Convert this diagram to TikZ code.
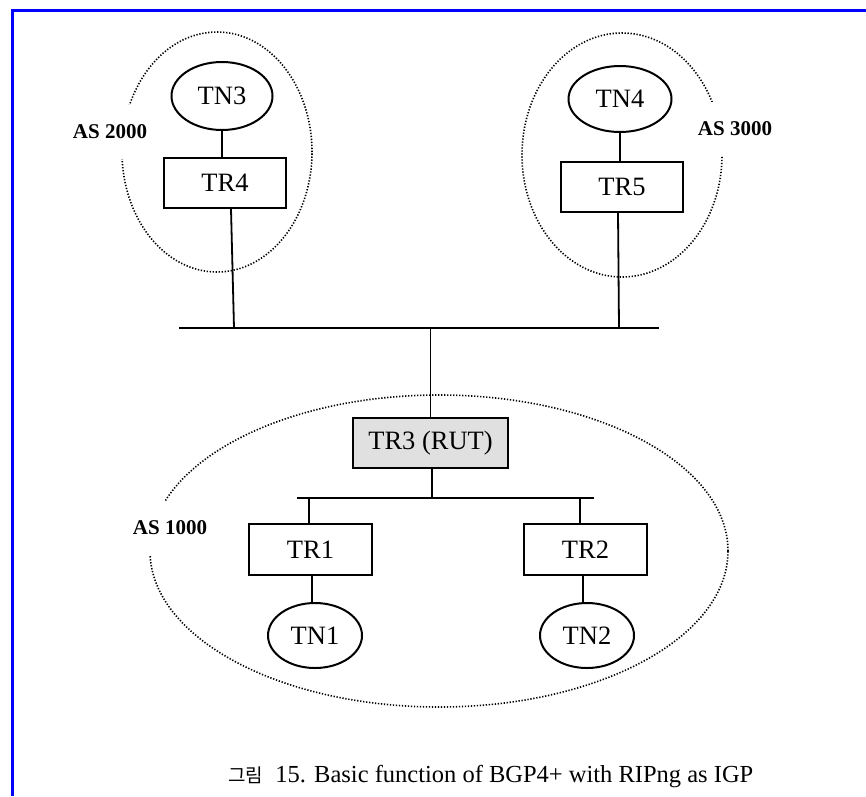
\documentclass[tikz,border=0pt]{standalone}
\usepackage{fontspec}
\setmainfont{Liberation Serif}
\newfontfamily\krfont{Noto Sans CJK KR}
\usetikzlibrary{shapes.geometric}
\definecolor{Frame}{RGB}{0,0,255}
\definecolor{RutGray}{RGB}{224,224,224}

\begin{document}
\begin{tikzpicture}[x=1pt, y=-1pt,
  router/.style={draw, line width=2pt, minimum width=122pt, minimum height=50pt, inner sep=0pt, font=\fontsize{26.5}{31}\selectfont},
  host/.style={draw, ellipse, line width=2pt, minimum width=100pt, minimum height=66pt, inner sep=0pt, font=\fontsize{26.5}{31}\selectfont},
  asarea/.style={draw, ellipse, line width=1.6pt, dash pattern=on 1.3pt off 1.7pt, inner sep=0pt},
  aslabel/.style={fill=white, inner xsep=0pt, minimum height=54pt, font=\bfseries\fontsize{21}{25}\selectfont},
  link/.style={line width=1.8pt}]
  \useasboundingbox (0,0) rectangle (866,796);
  \draw[Frame, line width=3pt] (12,796) -- (12,10) -- (866,10);
  % autonomous systems
  \node[asarea, minimum width=190pt, minimum height=240pt] (as2000) at (217,152) {};
  \node[asarea, minimum width=200pt, minimum height=244pt] (as3000) at (622,155) {};
  \node[asarea, minimum width=578pt, minimum height=312pt] (as1000) at (439,551) {};
  \node[aslabel] (as2000lbl) at (110,132) {AS 2000};
  \node[aslabel] (as3000lbl) at (735,129) {AS 3000};
  \node[aslabel] (as1000lbl) at (170,528) {AS 1000};
  % routers and hosts
  \node[host, minimum width=101pt, minimum height=68pt] (tn3) at (222,96) {TN3};
  \node[router] (tr4) at (225,183) {TR4};
  \node[host, minimum width=103pt] (tn4) at (620,99) {TN4};
  \node[router] (tr5) at (622,187) {TR5};
  \node[router, minimum width=155pt, fill=RutGray] (tr3) at (430.5,443) {TR3 (RUT)};
  \node[router, minimum width=123pt, minimum height=51pt] (tr1) at (310.5,549.5) {TR1};
  \node[router, minimum width=123pt, minimum height=51pt] (tr2) at (585.5,549.5) {TR2};
  \node[host, minimum width=94pt, minimum height=65pt] (tn1) at (315,635.5) {TN1};
  \node[host, minimum width=94pt, minimum height=65pt] (tn2) at (587,635.5) {TN2};
  % backbone and AS 1000 segment
  \coordinate (bbL) at (179,328);
  \coordinate (bbR) at (659,328);
  \coordinate (tap4) at (234,328);
  \coordinate (tap5) at (619,328);
  \coordinate (sbL) at (297,498);
  \coordinate (sbR) at (594,498);
  \coordinate (tap1) at (309,498);
  \coordinate (tap2) at (580,498);
  \draw[line width=2.2pt] (bbL) -- (bbR);
  \draw[line width=2pt] (sbL) -- (sbR);
  \draw[link] (tn3.south) -- (tn3.south |- tr4.north);
  \draw[link] (tn4.south) -- (tn4.south |- tr5.north);
  \draw[link] ([xshift=6pt]tr4.south) -- (tap4);
  \draw[link] ([xshift=-4pt]tr5.south) -- (tap5);
  \draw[link] (tr3.north) -- (tr3.north |- bbL);
  \draw[link] ([xshift=1.5pt]tr3.south) -- ([xshift=1.5pt]tr3.south |- sbL);
  \draw[link] ([xshift=-1.5pt]tr1.north) -- (tap1);
  \draw[link] ([xshift=-5.5pt]tr2.north) -- (tap2);
  \draw[link] ([xshift=1.5pt]tr1.south) -- ([xshift=1.5pt]tr1.south |- tn1.north);
  \draw[link] ([xshift=-2.5pt]tr2.south) -- ([xshift=-2.5pt]tr2.south |- tn2.north);
  % caption
  \node[anchor=base west, inner sep=0pt, font=\fontsize{24.5}{29}\selectfont] (caption) at (228,782)
    {{\krfont\fontsize{19}{23}\selectfont 그림}\ \ 15. Basic function of BGP4+ with RIPng as IGP};
\end{tikzpicture}
\end{document}
